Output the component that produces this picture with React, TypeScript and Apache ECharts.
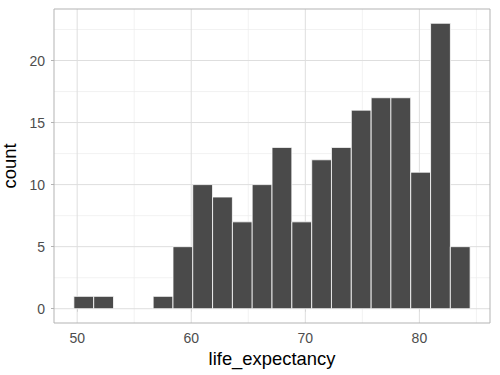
import React, { useEffect, useRef } from "react";
import * as echarts from "echarts";

// Histogram bins (centers of life_expectancy bins) and counts
const binCenters = [50.58, 52.32, 54.05, 55.79, 57.53, 59.27, 61.0, 62.74, 64.48, 66.21, 67.95, 69.69, 71.43, 73.16, 74.9, 76.64, 78.37, 80.11, 81.85, 83.58];
const binWidth = 1.737;
const counts = [1, 1, 0, 0, 1, 5, 10, 9, 7, 10, 13, 7, 12, 13, 16, 17, 17, 11, 23, 5];

const xTicks = [50, 60, 70, 80];
const xMinor = [55, 65, 75, 85];
const yTicks = [0, 5, 10, 15, 20];
const yMinor = [2.5, 7.5, 12.5, 17.5, 22.5];

const X_MIN = 47.97;
const X_MAX = 86.19;
const Y_MIN = -1.15;
const Y_MAX = 24.15;

export default function App() {
  const ref = useRef<HTMLDivElement>(null);
  useEffect(() => {
    if (!ref.current) return;
    document.body.style.margin = "0";
    const chart = echarts.init(ref.current, null, { renderer: "svg" });

    const gridData: number[][] = [];
    yMinor.forEach((v) => gridData.push([0, v, 0]));
    xMinor.forEach((v) => gridData.push([1, v, 0]));
    yTicks.forEach((v) => gridData.push([0, v, 1]));
    xTicks.forEach((v) => gridData.push([1, v, 1]));

    const barData = binCenters.map((c, i) => [c - binWidth / 2, c + binWidth / 2, counts[i]]);

    const font = "'Liberation Sans', Arial, Helvetica, sans-serif";

    chart.setOption({
      animation: false,
      backgroundColor: "#FFFFFF",
      textStyle: { fontFamily: font, color: "#4D4D4D" },
      grid: {
        left: 54,
        right: 10,
        top: 9,
        bottom: 52,
        containLabel: false,
        outerBoundsMode: "none",
        show: true,
        borderColor: "#B3B3B3",
        borderWidth: 1,
        backgroundColor: "transparent",
        z: 10,
      },
      xAxis: {
        type: "value",
        min: X_MIN,
        max: X_MAX,
        name: "life_expectancy",
        nameLocation: "middle",
        nameGap: 23,
        nameTextStyle: { color: "#000000", fontSize: 18.4, fontFamily: font },
        axisLine: { show: false, lineStyle: { color: "#4D4D4D" } },
        splitLine: { show: false },
        axisTick: {
          show: true,
          customValues: xTicks,
          length: 3,
          lineStyle: { color: "#B3B3B3", width: 1 },
        },
        axisLabel: {
          customValues: xTicks,
          color: "#4D4D4D",
          fontSize: 14,
          fontFamily: font,
          margin: 8,
        },
      },
      yAxis: {
        type: "value",
        min: Y_MIN,
        max: Y_MAX,
        name: "count",
        nameLocation: "middle",
        nameGap: 29,
        nameRotate: 90,
        nameTextStyle: { color: "#000000", fontSize: 18.4, fontFamily: font },
        axisLine: { show: false, lineStyle: { color: "#4D4D4D" } },
        splitLine: { show: false },
        axisTick: {
          show: true,
          customValues: yTicks,
          length: 3,
          lineStyle: { color: "#B3B3B3", width: 1 },
        },
        axisLabel: {
          customValues: yTicks,
          color: "#4D4D4D",
          fontSize: 14,
          fontFamily: font,
          margin: 9,
        },
      },
      series: [
        {
          type: "custom",
          name: "grid",
          silent: true,
          z: 1,
          clip: true,
          data: gridData,
          renderItem: (params: any, api: any) => {
            const cs = params.coordSys;
            const orient = api.value(0);
            const v = api.value(1);
            const major = api.value(2) === 1;
            const color = major ? "#DEDEDE" : "#EDEDED";
            const lw = major ? 1 : 0.7;
            if (orient === 0) {
              const y = api.coord([X_MIN, v])[1];
              return {
                type: "line",
                shape: { x1: cs.x, y1: y, x2: cs.x + cs.width, y2: y },
                style: { stroke: color, lineWidth: lw },
              };
            }
            const x = api.coord([v, 0])[0];
            return {
              type: "line",
              shape: { x1: x, y1: cs.y, x2: x, y2: cs.y + cs.height },
              style: { stroke: color, lineWidth: lw },
            };
          },
        },
        {
          type: "custom",
          name: "count",
          z: 2,
          data: barData,
          encode: { x: [0, 1], y: 2 },
          renderItem: (params: any, api: any) => {
            const x0 = api.value(0);
            const x1 = api.value(1);
            const n = api.value(2);
            if (!n) return null;
            const p0 = api.coord([x0, 0]);
            const p1 = api.coord([x1, n]);
            return {
              type: "rect",
              shape: { x: p0[0], y: p1[1], width: p1[0] - p0[0], height: p0[1] - p1[1] },
              style: { fill: "#4A4A4A", stroke: "#FFFFFF", lineWidth: 0.8 },
            };
          },
        },
      ],
    });
    return () => chart.dispose();
  }, []);
  return <div ref={ref} style={{ width: 500, height: 375 }} />;
}
